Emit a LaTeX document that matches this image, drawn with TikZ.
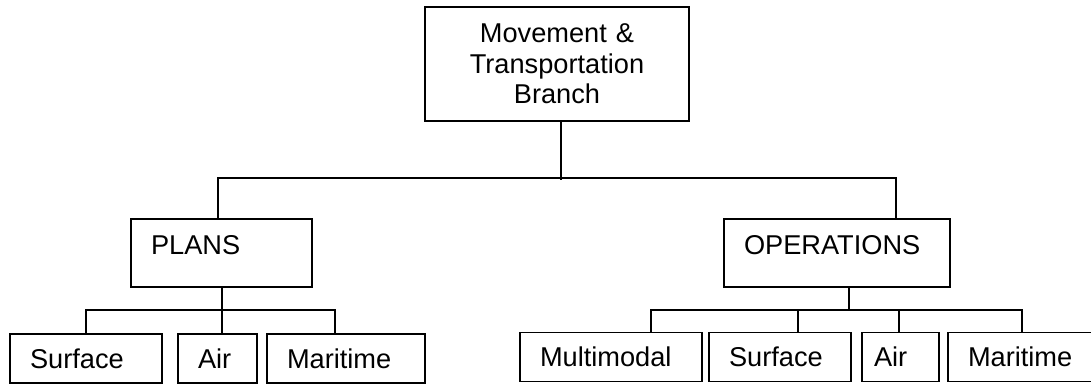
\documentclass[tikz,border=0pt]{standalone}
\usepackage{fontspec}
\setmainfont{Liberation Sans}
\usepackage{tikz}

\begin{document}
\begin{tikzpicture}[x=0.5pt, y=-0.5pt, line width=0.8pt,
                box/.style={draw, inner xsep=10pt, inner ysep=0pt, align=left,
                    font=\fontsize{13.6pt}{15.35pt}\selectfont},
                head/.style={box, minimum height=34pt, text depth=8pt},
                leaf/.style={box, minimum height=24.5pt}]
                \clip (0,0) rectangle (1091,385);

                \node[box, align=center, text width=112pt, minimum height=57pt] (mtb) at (557,64)
                    {Movement \&\\ Transportation\\ Branch};

                \node[head, text width=70.5pt] (plans) at (221.5,253) {PLANS};
                \node[head, text width=93pt] (ops) at (837,253) {OPERATIONS};

                \node[leaf, text width=56pt] (psurf) at (86,358.5) {Surface};
                \node[leaf, text width=19.5pt] (pair) at (217.5,358.5) {Air};
                \node[leaf, text width=59pt] (pmar) at (346,358.5) {Maritime};

                \node[leaf, text width=71pt] (omulti) at (611,357) {Multimodal};
                \node[leaf, text width=51pt] (osurf) at (780,357) {Surface};
                \node[leaf, inner xsep=6pt, text width=26.5pt] (oair) at (900.5,357) {Air};
                \node[leaf, text width=52.5pt] (omar) at (1020.5,357) {Maritime};

                \coordinate (hub) at (561,178);
                \coordinate (busl) at (218,178);
                \coordinate (busr) at (896,178);
                \draw (mtb.south -| hub) -- ([yshift=-1pt]hub);
                \draw (busl |- plans.north) -- (busl) -- (busr) -- (busr |- ops.north);

                \coordinate (pj) at (222,310);
                \coordinate (pjr) at (335,310);
                \draw (plans.south -| pj) -- (pj |- pair.north);
                \draw (psurf.north) |- (pjr) -- (pjr |- pmar.north);

                \coordinate (oj) at (849,310);
                \coordinate (ojl) at (651,310);
                \coordinate (ojs) at (798,310);
                \coordinate (oja) at (899,310);
                \coordinate (ojr) at (1022,310);
                \draw (ops.south -| oj) -- (oj);
                \draw (ojl |- omulti.north) -- (ojl) -- (ojr) -- (ojr |- omar.north);
                \draw (ojs) -- (ojs |- osurf.north);
                \draw (oja) -- (oja |- oair.north);
            \end{tikzpicture}
\end{document}
